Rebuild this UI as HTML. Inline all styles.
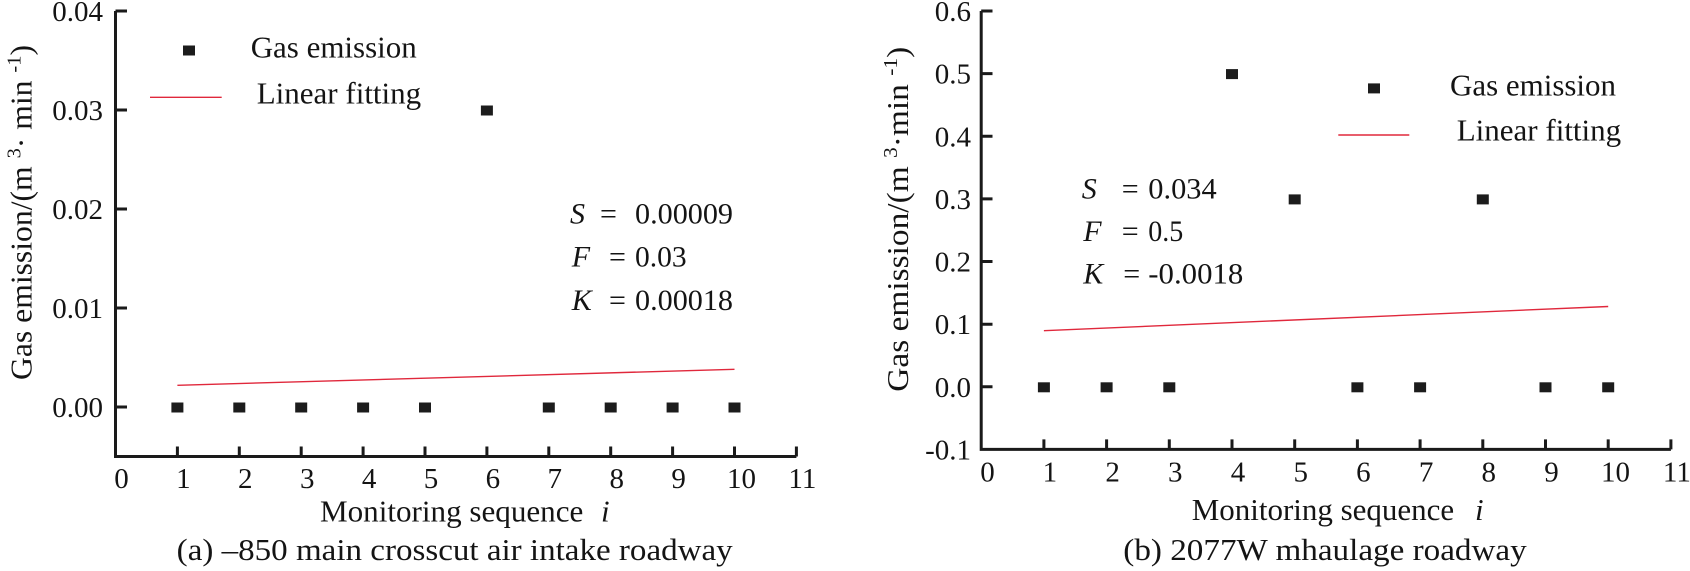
<!DOCTYPE html>
<html>
<head>
<meta charset="utf-8">
<style>
html,body{margin:0;padding:0;background:#fff;}
svg{display:block;}
svg text{font-family:"Liberation Serif","DejaVu Serif",serif;fill:#141414;}
</style>
</head>
<body>
<svg width="1690" height="571" viewBox="0 0 1690 571" xmlns="http://www.w3.org/2000/svg" font-family="Liberation Serif, DejaVu Serif, serif" style="font-family:'Liberation Serif','DejaVu Serif',serif;">
<rect width="1690" height="571" fill="#fff"/>

<!-- ================= LEFT CHART ================= -->
<g stroke="#1a1a1a" stroke-width="3" fill="none">
  <path d="M115.5,11 V456.5 H796.4"/>
  <path d="M115.5,11 H127 M115.5,110 H127 M115.5,209 H127 M115.5,308 H127 M115.5,407 H127"/>
  <path d="M177.4,456.5 V446.5 M239.3,456.5 V446.5 M301.2,456.5 V446.5 M363.1,456.5 V446.5 M425,456.5 V446.5 M486.9,456.5 V446.5 M548.8,456.5 V446.5 M610.7,456.5 V446.5 M672.6,456.5 V446.5 M734.5,456.5 V446.5 M796.4,456.5 V446.5"/>
</g>
<g font-size="29" text-anchor="end">
  <text x="103" y="21">0.04</text>
  <text x="103" y="120">0.03</text>
  <text x="103" y="219">0.02</text>
  <text x="103" y="318">0.01</text>
  <text x="103" y="417">0.00</text>
</g>
<g font-size="29" text-anchor="middle">
  <text x="121.5" y="488">0</text>
  <text x="183.4" y="488">1</text>
  <text x="245.3" y="488">2</text>
  <text x="307.2" y="488">3</text>
  <text x="369.1" y="488">4</text>
  <text x="431" y="488">5</text>
  <text x="492.9" y="488">6</text>
  <text x="554.8" y="488">7</text>
  <text x="616.7" y="488">8</text>
  <text x="678.6" y="488">9</text>
  <text x="741.5" y="488">10</text>
  <text x="802.4" y="488">11</text>
</g>
<line x1="177.4" y1="385.3" x2="734.5" y2="369.3" stroke="#e0283c" stroke-width="1.4"/>
<g fill="#1c1c1c">
  <rect x="171.4" y="402.5" width="12" height="10"/>
  <rect x="233.3" y="402.5" width="12" height="10"/>
  <rect x="295.2" y="402.5" width="12" height="10"/>
  <rect x="357.1" y="402.5" width="12" height="10"/>
  <rect x="419" y="402.5" width="12" height="10"/>
  <rect x="480.9" y="105.5" width="12" height="10"/>
  <rect x="542.8" y="402.5" width="12" height="10"/>
  <rect x="604.7" y="402.5" width="12" height="10"/>
  <rect x="666.6" y="402.5" width="12" height="10"/>
  <rect x="728.5" y="402.5" width="12" height="10"/>
  <rect x="183" y="45.5" width="12" height="10"/>
</g>
<line x1="150" y1="97.3" x2="221.7" y2="97.3" stroke="#e0283c" stroke-width="1.4"/>
<text x="250.7" y="57.3" font-size="31" textLength="166" lengthAdjust="spacingAndGlyphs">Gas emission</text>
<text x="256.7" y="103.3" font-size="31" textLength="164.5" lengthAdjust="spacingAndGlyphs">Linear fitting</text>

<g font-size="30">
  <text x="570" y="223.5" font-style="italic">S</text>
  <text x="600" y="223.5">=</text>
  <text x="635" y="223.5" textLength="98" lengthAdjust="spacingAndGlyphs">0.00009</text>
  <text x="571.7" y="266.7" font-style="italic">F</text>
  <text x="609" y="266.7">=</text>
  <text x="635" y="266.7" textLength="51.7" lengthAdjust="spacingAndGlyphs">0.03</text>
  <text x="571.7" y="310" font-style="italic">K</text>
  <text x="609" y="310">=</text>
  <text x="635" y="310" textLength="98" lengthAdjust="spacingAndGlyphs">0.00018</text>
</g>

<text transform="translate(31.5,380) rotate(-90)" font-size="31" textLength="335" lengthAdjust="spacingAndGlyphs">Gas emission/(m <tspan font-size="20" dy="-11">3</tspan><tspan dy="11">· min </tspan><tspan font-size="20" dy="-11">-1</tspan><tspan dy="11">)</tspan></text>

<text x="320" y="521.5" font-size="31" textLength="263.3" lengthAdjust="spacingAndGlyphs">Monitoring sequence</text>
<text x="601" y="521.5" font-size="31" font-style="italic">i</text>

<text x="176.7" y="560" font-size="31" textLength="556" lengthAdjust="spacingAndGlyphs">(a) –850 main crosscut air intake roadway</text>

<!-- ================= RIGHT CHART ================= -->
<g stroke="#1a1a1a" stroke-width="3" fill="none">
  <path d="M981.2,11 V449.4 H1670.9"/>
  <path d="M981.2,11 H992.5 M981.2,73.6 H992.5 M981.2,136.3 H992.5 M981.2,198.9 H992.5 M981.2,261.5 H992.5 M981.2,324.2 H992.5 M981.2,386.8 H992.5"/>
  <path d="M1043.9,449.4 V439.4 M1106.6,449.4 V439.4 M1169.3,449.4 V439.4 M1232,449.4 V439.4 M1294.7,449.4 V439.4 M1357.4,449.4 V439.4 M1420.1,449.4 V439.4 M1482.8,449.4 V439.4 M1545.5,449.4 V439.4 M1608.2,449.4 V439.4 M1670.9,449.4 V439.4"/>
</g>
<g font-size="29" text-anchor="end">
  <text x="971" y="21">0.6</text>
  <text x="971" y="83.6">0.5</text>
  <text x="971" y="146.3">0.4</text>
  <text x="971" y="208.9">0.3</text>
  <text x="971" y="271.5">0.2</text>
  <text x="971" y="334.2">0.1</text>
  <text x="971" y="396.8">0.0</text>
  <text x="971" y="459.4">-0.1</text>
</g>
<g font-size="29" text-anchor="middle">
  <text x="987.5" y="481.7">0</text>
  <text x="1049.9" y="481.7">1</text>
  <text x="1112.6" y="481.7">2</text>
  <text x="1175.3" y="481.7">3</text>
  <text x="1238" y="481.7">4</text>
  <text x="1300.7" y="481.7">5</text>
  <text x="1363.4" y="481.7">6</text>
  <text x="1426.1" y="481.7">7</text>
  <text x="1488.8" y="481.7">8</text>
  <text x="1551.5" y="481.7">9</text>
  <text x="1615.5" y="481.7">10</text>
  <text x="1676.9" y="481.7">11</text>
</g>
<line x1="1043.9" y1="330.7" x2="1608.2" y2="306.5" stroke="#e0283c" stroke-width="1.4"/>
<g fill="#1c1c1c">
  <rect x="1037.9" y="382.3" width="12" height="10"/>
  <rect x="1100.6" y="382.3" width="12" height="10"/>
  <rect x="1163.3" y="382.3" width="12" height="10"/>
  <rect x="1226" y="69.1" width="12" height="10"/>
  <rect x="1288.7" y="194.4" width="12" height="10"/>
  <rect x="1351.4" y="382.3" width="12" height="10"/>
  <rect x="1414.1" y="382.3" width="12" height="10"/>
  <rect x="1476.8" y="194.4" width="12" height="10"/>
  <rect x="1539.5" y="382.3" width="12" height="10"/>
  <rect x="1602.2" y="382.3" width="12" height="10"/>
  <rect x="1368" y="83.4" width="12" height="10"/>
</g>
<line x1="1338.3" y1="135" x2="1409.3" y2="135" stroke="#e0283c" stroke-width="1.4"/>
<text x="1450" y="95.5" font-size="31" textLength="166" lengthAdjust="spacingAndGlyphs">Gas emission</text>
<text x="1456.7" y="140.4" font-size="31" textLength="164.5" lengthAdjust="spacingAndGlyphs">Linear fitting</text>

<g font-size="30">
  <text x="1081.7" y="198.3" font-style="italic">S</text>
  <text x="1121.7" y="198.3">=</text>
  <text x="1148.3" y="198.3" textLength="68.4" lengthAdjust="spacingAndGlyphs">0.034</text>
  <text x="1083.3" y="240.8" font-style="italic">F</text>
  <text x="1121.7" y="240.8">=</text>
  <text x="1148.3" y="240.8" textLength="35" lengthAdjust="spacingAndGlyphs">0.5</text>
  <text x="1083.3" y="283.3" font-style="italic">K</text>
  <text x="1123.3" y="283.3">=</text>
  <text x="1148.3" y="283.3" textLength="95" lengthAdjust="spacingAndGlyphs">-0.0018</text>
</g>

<text transform="translate(908,391.7) rotate(-90)" font-size="31" textLength="345" lengthAdjust="spacingAndGlyphs">Gas emission/(m <tspan font-size="20" dy="-11">3</tspan><tspan dy="11">·min </tspan><tspan font-size="20" dy="-11">-1</tspan><tspan dy="11">)</tspan></text>

<text x="1191.7" y="520" font-size="31" textLength="262.5" lengthAdjust="spacingAndGlyphs">Monitoring sequence</text>
<text x="1475" y="520" font-size="31" font-style="italic">i</text>

<text x="1123.3" y="560" font-size="31" textLength="403.4" lengthAdjust="spacingAndGlyphs">(b) 2077W mhaulage roadway</text>
</svg>
</body>
</html>
